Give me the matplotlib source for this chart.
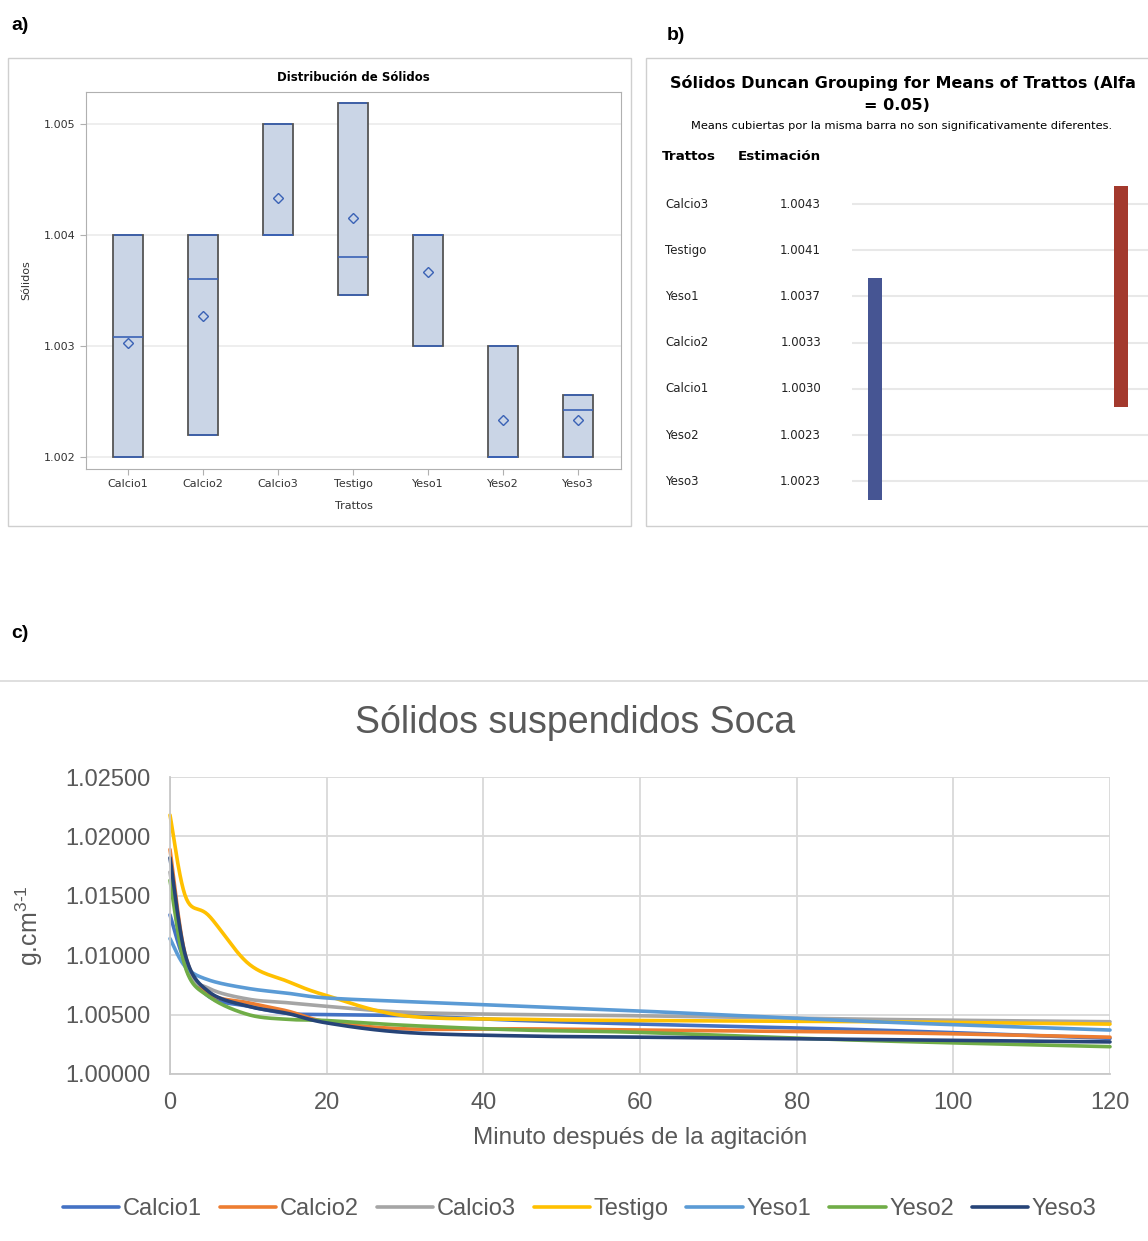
import numpy as np
import matplotlib.pyplot as plt
from matplotlib.patches import Rectangle
from matplotlib.lines import Line2D
from matplotlib import transforms

plt.rcParams["mathtext.fontset"] = "custom"
plt.rcParams["mathtext.rm"] = "Liberation Sans"

W, H = 1148, 1241

# ---------------------------------------------------------------
# datos
# ---------------------------------------------------------------
TRATTOS = ["Calcio1", "Calcio2", "Calcio3", "Testigo", "Yeso1", "Yeso2", "Yeso3"]

# distribución de sólidos (cuartiles, mediana, media)
Q1 = [1.0020, 1.0022, 1.0040, 1.00346, 1.0030, 1.0020, 1.0020]
MEDIANA = [1.00308, 1.0036, 1.0040, 1.0038, 1.0040, 1.0020, 1.00242]
Q3 = [1.0040, 1.0040, 1.0050, 1.00519, 1.0040, 1.0030, 1.00256]
MEDIA = [1.00303, 1.00327, 1.00433, 1.00415, 1.00367, 1.00233, 1.00233]

# agrupamiento de Duncan
ORDEN_DUNCAN = ["Calcio3", "Testigo", "Yeso1", "Calcio2", "Calcio1", "Yeso2", "Yeso3"]
ESTIMACION = ["1.0043", "1.0041", "1.0037", "1.0033", "1.0030", "1.0023", "1.0023"]
GRUPO_A = ["Calcio3", "Testigo", "Yeso1", "Calcio2", "Calcio1"]
GRUPO_B = ["Yeso1", "Calcio2", "Calcio1", "Yeso2", "Yeso3"]

# sólidos suspendidos en el tiempo
MINUTOS = [0, 2, 5, 10, 15, 20, 30, 45, 60, 90, 120]
CALCIO1 = [1.0134, 1.0093, 1.0065, 1.0057, 1.0051, 1.0050, 1.0049, 1.0045, 1.0042, 1.0037, 1.0030]
CALCIO2 = [1.0189, 1.0099, 1.0068, 1.0060, 1.0053, 1.0044, 1.0038, 1.0038, 1.0037, 1.0035, 1.0031]
CALCIO3 = [1.0170, 1.0090, 1.0072, 1.0063, 1.0060, 1.0057, 1.0052, 1.0050, 1.0049, 1.0046, 1.0044]
TESTIGO = [1.0218, 1.0149, 1.0133, 1.0093, 1.0078, 1.0066, 1.0049, 1.0046, 1.0045, 1.0044, 1.0042]
YESO1 = [1.0114, 1.0090, 1.0079, 1.0072, 1.0068, 1.0064, 1.0061, 1.0057, 1.0053, 1.0044, 1.0037]
YESO2 = [1.0163, 1.0089, 1.0065, 1.0050, 1.0046, 1.0045, 1.0041, 1.0037, 1.0035, 1.0028, 1.0023]
YESO3 = [1.0182, 1.0099, 1.0069, 1.0057, 1.0051, 1.0043, 1.0035, 1.0032, 1.0031, 1.0029, 1.0027]

SERIES = {
    "Calcio1": (CALCIO1, "#4472C4"),
    "Calcio2": (CALCIO2, "#ED7D31"),
    "Calcio3": (CALCIO3, "#A5A5A5"),
    "Testigo": (TESTIGO, "#FFC000"),
    "Yeso1": (YESO1, "#5B9BD5"),
    "Yeso2": (YESO2, "#70AD47"),
    "Yeso3": (YESO3, "#264478"),
}


def rect(x0, y0, x1, y1):
    return [x0 / W, 1 - y1 / H, (x1 - x0) / W, (y1 - y0) / H]


def fx(x):
    return x / W


def fy(y):
    return 1 - y / H


def suavizar(x, y, n=25):
    # curva bezier con puntos de control tipo "línea suavizada"
    x = np.asarray(x, float)
    y = np.asarray(y, float)
    xs, ys = [x[0]], [y[0]]
    for i in range(len(x) - 1):
        i0, i3 = max(i - 1, 0), min(i + 2, len(x) - 1)
        c1x = x[i] + (x[i + 1] - x[i0]) / 6
        c1y = y[i] + (y[i + 1] - y[i0]) / 6
        c2x = x[i + 1] - (x[i3] - x[i]) / 6
        c2y = y[i + 1] - (y[i3] - y[i]) / 6
        t = np.linspace(0, 1, n)[1:]
        b0, b1, b2, b3 = (1 - t) ** 3, 3 * t * (1 - t) ** 2, 3 * t ** 2 * (1 - t), t ** 3
        xs.extend(b0 * x[i] + b1 * c1x + b2 * c2x + b3 * x[i + 1])
        ys.extend(b0 * y[i] + b1 * c1y + b2 * c2y + b3 * y[i + 1])
    return np.array(xs), np.array(ys)


fig = plt.figure(figsize=(W / 100, H / 100), dpi=100)

# etiquetas de panel
for txt, x, y in [("a)", 11, 25), ("b)", 667, 36), ("c)", 11, 633)]:
    fig.text(fx(x), fy(y), txt, fontsize=14, fontweight="bold",
             family="Liberation Sans", va="center", ha="left")

# ---------------------------------------------------------------
# a) Distribución de Sólidos
# ---------------------------------------------------------------
fig.add_artist(Rectangle((fx(8), fy(526)), (631 - 8) / W, (526 - 58) / H,
                         transform=fig.transFigure, fill=False, ec="#CFCFCF", lw=1))
axa = fig.add_axes(rect(86, 92, 621, 469))
stats = []
for i, t in enumerate(TRATTOS):
    stats.append(dict(label=t, q1=Q1[i], med=MEDIANA[i], q3=Q3[i],
                      whislo=Q1[i], whishi=Q3[i], mean=MEDIA[i]))
azul_sas = "#3A62B5"
axa.bxp(stats, positions=range(len(TRATTOS)), widths=0.4, capwidths=0.34,
        showmeans=True, showfliers=False, patch_artist=True,
        boxprops=dict(facecolor="#CAD5E6", edgecolor="#555555", lw=1.3),
        medianprops=dict(color=azul_sas, lw=1.2),
        whiskerprops=dict(color=azul_sas, lw=1),
        capprops=dict(color=azul_sas, lw=1.2),
        meanprops=dict(marker="D", markerfacecolor="none",
                       markeredgecolor=azul_sas, markersize=5.5, markeredgewidth=1))
axa.set_xlim(-0.56, 6.57)
axa.set_ylim(1.00189, 1.00529)
axa.set_yticks([1.002, 1.003, 1.004, 1.005])
axa.set_yticklabels(["1.002", "1.003", "1.004", "1.005"])
axa.set_xticks(range(len(TRATTOS)))
axa.set_xticklabels(TRATTOS)
axa.yaxis.grid(True, color="#EBEBEB", lw=1.2)
axa.set_axisbelow(True)
for s in axa.spines.values():
    s.set_color("#B0B0B0")
axa.tick_params(labelsize=8, colors="#333333", length=4, color="#B0B0B0")
axa.set_title("Distribución de Sólidos", fontsize=8.5, fontweight="bold", pad=8)
axa.set_xlabel("Trattos", fontsize=8, color="#333333", labelpad=8)
axa.set_ylabel("Sólidos", fontsize=8, color="#333333", labelpad=9)

# ---------------------------------------------------------------
# b) Agrupamiento de Duncan
# ---------------------------------------------------------------
fig.add_artist(Rectangle((fx(646), fy(526)), (1170 - 646) / W, (526 - 58) / H,
                         transform=fig.transFigure, fill=False, ec="#CFCFCF", lw=1))
fig.text(fx(903), fy(83), "Sólidos Duncan Grouping for Means of Trattos (Alfa",
         fontsize=11.5, fontweight="bold", ha="center", va="center")
fig.text(fx(897), fy(105), "= 0.05)", fontsize=11.5, fontweight="bold",
         ha="center", va="center")
fig.text(fx(902), fy(126),
         "Means cubiertas por la misma barra no son significativamente diferentes.",
         fontsize=8.2, ha="center", va="center")
fig.text(fx(662), fy(157), "Trattos", fontsize=9.7, fontweight="bold", va="center")
fig.text(fx(738), fy(157), "Estimación", fontsize=9.7, fontweight="bold", va="center")

axb = fig.add_axes(rect(852, 160, 1148, 520))
axb.set_xlim(0, 1)
axb.set_ylim(6.84, -0.953)
axb.axis("off")
filas = np.arange(len(ORDEN_DUNCAN))
for f in filas:
    axb.axhline(f, color="#E8E8E8", lw=1.5, zorder=0)
mixto = transforms.blended_transform_factory(fig.transFigure, axb.transData)
for f, nombre, est in zip(filas, ORDEN_DUNCAN, ESTIMACION):
    axb.text(fx(665), f, nombre, transform=mixto, fontsize=8.5,
             va="center", ha="left", color="#222222")
    axb.text(fx(821), f, est, transform=mixto, fontsize=8.5,
             va="center", ha="right", color="#222222")

for grupo, xc, color in [(GRUPO_B, 0.078, "#465593"), (GRUPO_A, 0.909, "#A3392D")]:
    idx = [ORDEN_DUNCAN.index(g) for g in grupo]
    axb.bar(xc, max(idx) - min(idx) + 0.8, bottom=min(idx) - 0.4,
            width=0.048, color=color, zorder=2)

# separador
fig.add_artist(Line2D([0, 1], [fy(681), fy(681)], color="#D9D9D9", lw=1.2))

# ---------------------------------------------------------------
# c) Sólidos suspendidos Soca
# ---------------------------------------------------------------
gris = "#595959"
axc = fig.add_axes(rect(170, 777, 1110, 1074))
for nombre, (valores, color) in SERIES.items():
    xs, ys = suavizar(MINUTOS, valores)
    axc.plot(xs, ys, color=color, lw=2.6, label=nombre,
             solid_capstyle="round", clip_on=False)

axc.set_xlim(0, 120)
axc.set_ylim(1.0, 1.025)
axc.set_xticks(range(0, 121, 20))
axc.set_yticks(np.arange(1.0, 1.02501, 0.005))
axc.yaxis.set_major_formatter(plt.FormatStrFormatter("%.5f"))
axc.grid(True, color="#D9D9D9", lw=1.3)
axc.set_axisbelow(True)
for s in ["top", "right"]:
    axc.spines[s].set_visible(False)
for s in ["left", "bottom"]:
    axc.spines[s].set_color("#C8C8C8")
    axc.spines[s].set_linewidth(1.3)
axc.tick_params(length=0, labelsize=17, colors=gris)
axc.tick_params(axis="y", pad=14)
axc.tick_params(axis="x", pad=13)
for lab in axc.get_xticklabels() + axc.get_yticklabels():
    lab.set_family("Liberation Sans")

fig.text(fx(575), fy(723), "Sólidos suspendidos Soca", fontsize=27, color=gris,
         family="Liberation Sans", ha="center", va="center")
axc.set_xlabel("Minuto después de la agitación", fontsize=17.5, color=gris,
               family="Liberation Sans", labelpad=9)
axc.set_ylabel(r"g.cm$^{\text{3-1}}$", fontsize=18, color=gris,
               family="Liberation Sans")
axc.yaxis.set_label_coords(-0.133, 0.5)

fig.legend(loc="center", bbox_to_anchor=(0.505, fy(1209)), ncol=7, frameon=False,
           prop=dict(family="Liberation Sans", size=17), labelcolor=gris,
           handlelength=2.4, handletextpad=0.15, columnspacing=0.75)

fig.savefig("out.png", dpi=100)
